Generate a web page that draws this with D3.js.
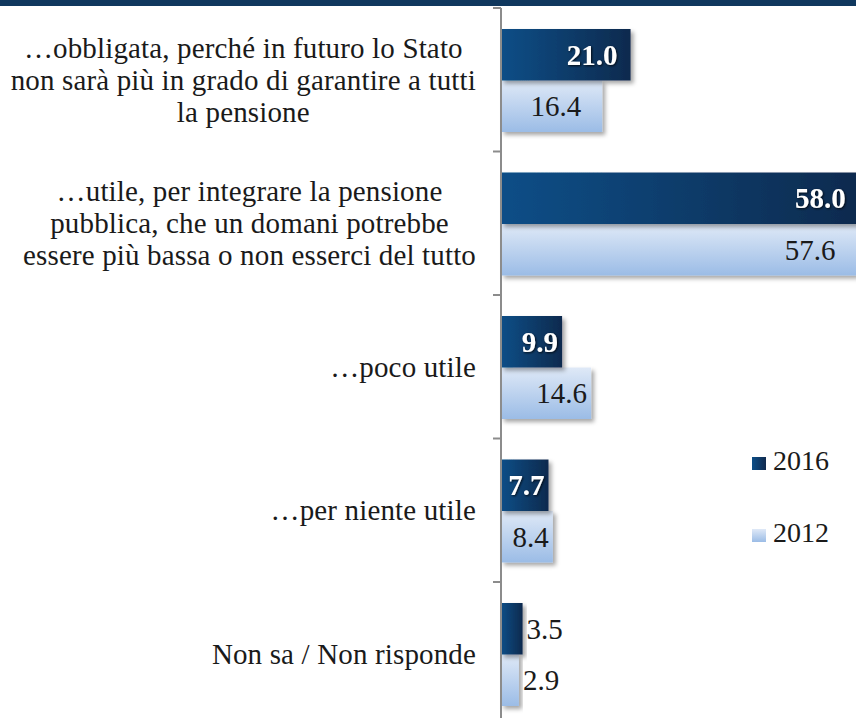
<!DOCTYPE html>
<html>
<head>
<meta charset="utf-8">
<script src="https://cdnjs.cloudflare.com/ajax/libs/d3/7.8.5/d3.min.js"></script>
<style>
  body { margin: 0; background: #fff; }
</style>
</head>
<body>
<div id="chart"></div>
<script>
// categories (line breaks as in the original labels)
var categories = [
    "…obbligata, perché in futuro lo Stato\nnon sarà più in grado di garantire a tutti\nla pensione",
    "…utile, per integrare la pensione\npubblica, che un domani potrebbe\nessere più bassa o non esserci del tutto",
    "…poco utile",
    "…per niente utile",
    "Non sa / Non risponde"
];
var series = ["2016", "2012"];
var values2016 = [21.0, 58.0, 9.9, 7.7, 3.5];
var values2012 = [16.4, 57.6, 14.6, 8.4, 2.9];

var W = 856, H = 718;
var FONT = "'Liberation Serif', 'Times New Roman', 'DejaVu Serif', serif";

var svg = d3.select("#chart")
    .append("svg")
    .attr("width", W)
    .attr("height", H)
    .attr("font-family", FONT);

var defs = svg.append("defs");

// gradients
var gDark = defs.append("linearGradient").attr("id", "gDark")
    .attr("x1", "0").attr("y1", "0").attr("x2", "1").attr("y2", "0");
gDark.append("stop").attr("offset", "0%").attr("stop-color", "#0c4e87");
gDark.append("stop").attr("offset", "100%").attr("stop-color", "#112a4e");

var gLight = defs.append("linearGradient").attr("id", "gLight")
    .attr("x1", "0").attr("y1", "0").attr("x2", "0").attr("y2", "1");
gLight.append("stop").attr("offset", "0%").attr("stop-color", "#dfe9f7");
gLight.append("stop").attr("offset", "100%").attr("stop-color", "#9bbce6");

var shadow = defs.append("filter").attr("id", "shadow")
    .attr("x", "-10%").attr("y", "-10%").attr("width", "130%").attr("height", "140%");
shadow.append("feDropShadow").attr("dx", 3).attr("dy", 3)
    .attr("stdDeviation", 2).attr("flood-color", "#000").attr("flood-opacity", 0.35);

var glow = defs.append("filter").attr("id", "glow");
glow.append("feDropShadow").attr("dx", 1).attr("dy", 1)
    .attr("stdDeviation", 0.8).attr("flood-color", "#000").attr("flood-opacity", 0.8);

// top band
svg.append("rect").attr("x", 0).attr("y", 0).attr("width", W).attr("height", 6)
    .attr("fill", "#10385e");

var axisX = 501;

// scales
var y = d3.scaleBand()
    .domain(categories)
    .range([8, 8 + 143.5 * categories.length])
    .padding(0);

var ySub = d3.scaleBand()
    .domain(series)
    .range([21, 124])
    .padding(0);

var x = d3.scaleLinear()
    .domain([0, 100])
    .range([axisX, axisX + 617]);

var color = d3.scaleOrdinal().domain(series).range(["url(#gDark)", "url(#gLight)"]);

var rows = categories.map(function (c, i) {
    return { cat: c, vals: [
        { key: "2016", value: values2016[i] },
        { key: "2012", value: values2012[i] }
    ] };
});

// bars
var groups = svg.append("g").selectAll("g")
    .data(rows)
    .enter().append("g")
    .attr("transform", function (d) { return "translate(0," + y(d.cat) + ")"; });

// light first so the dark bar shadow falls over it
groups.each(function (d) {
    var g = d3.select(this);
    d.vals.slice().reverse().forEach(function (v) {
        g.append("rect")
            .attr("x", x(0))
            .attr("y", ySub(v.key))
            .attr("width", x(v.value) - x(0))
            .attr("height", ySub.bandwidth())
            .attr("fill", color(v.key))
            .attr("filter", "url(#shadow)");
    });
});

// value labels
groups.each(function (d) {
    var g = d3.select(this);
    d.vals.forEach(function (v) {
        var dark = v.key === "2016";
        var t = g.append("text")
            .text(v.value.toFixed(1))
            .attr("y", ySub(v.key) + ySub.bandwidth() / 2 + 10)
            .attr("font-size", 29)
            .attr("font-weight", dark ? "bold" : "normal");
        var tw = t.node().getComputedTextLength();
        var bw = x(v.value) - x(0);
        if (bw > tw + 6) {
            var inset = bw < 100 ? 4 : (dark ? 13 : 21);
            t.attr("x", x(v.value) - inset).attr("text-anchor", "end")
                .attr("fill", dark ? "#fff" : "#1a1a1a");
            if (dark) t.attr("filter", "url(#glow)");
        } else {
            t.attr("x", x(v.value) + 4).attr("text-anchor", "start")
                .attr("fill", "#1a1a1a").attr("font-weight", "normal");
        }
    });
});

// axis line and ticks
svg.append("line")
    .attr("x1", axisX).attr("x2", axisX)
    .attr("y1", 8).attr("y2", H)
    .attr("stroke", "#8c8c8c").attr("stroke-width", 2);

var ticks = categories.map(function (c) { return y(c); });
ticks.push(y(categories[categories.length - 1]) + y.step());
svg.append("g").selectAll("line")
    .data(ticks)
    .enter().append("line")
    .attr("x1", axisX - 8).attr("x2", axisX)
    .attr("y1", function (d) { return d; }).attr("y2", function (d) { return d; })
    .attr("stroke", "#8c8c8c").attr("stroke-width", 2);

// category labels, centred block, right edge at 476
var labelRight = 476;
categories.forEach(function (c) {
    var lines = c.split("\n");
    var cy = y(c) + y.bandwidth() / 2;
    var g = svg.append("g");
    var texts = lines.map(function (l, j) {
        return g.append("text")
            .text(l)
            .attr("y", cy + 10 + (j - (lines.length - 1) / 2) * 32)
            .attr("text-anchor", "middle")
            .attr("fill", "#1a1a1a")
            .attr("font-size", 29)
            .attr("letter-spacing", 0.15);
    });
    var maxW = d3.max(texts, function (t) { return t.node().getBBox().width; });
    texts.forEach(function (t) { t.attr("x", labelRight - maxW / 2); });
});

// legend
var legend = svg.append("g").selectAll("g")
    .data(series)
    .enter().append("g")
    .attr("transform", function (d, i) { return "translate(752," + (470 + i * 72) + ")"; });
legend.append("rect")
    .attr("x", 0).attr("y", -13)
    .attr("width", 14).attr("height", 13)
    .attr("fill", function (d) { return color(d); });
legend.append("text")
    .text(function (d) { return d; })
    .attr("x", 21).attr("y", 0)
    .attr("fill", "#1a1a1a")
    .attr("font-size", 28);
</script>
</body>
</html>
